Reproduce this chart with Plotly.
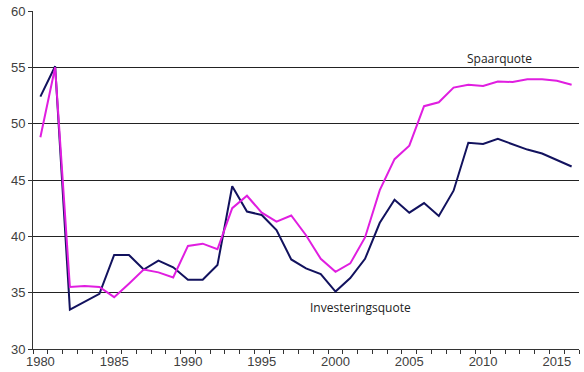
import plotly.graph_objects as go

years = list(range(1980, 2017))
investeringsquote = [52.4, 55.1, 33.5, 34.2, 34.9, 38.35, 38.35, 37.05, 37.85, 37.25,
                     36.15, 36.15, 37.45, 44.45, 42.2, 41.9, 40.55, 37.95, 37.15, 36.65,
                     35.1, 36.3, 38.0, 41.2, 43.25, 42.1, 42.95, 41.8, 44.05, 48.3,
                     48.2, 48.65, 48.15, 47.7, 47.35, 46.8, 46.2]
spaarquote = [48.8, 55.0, 35.5, 35.6, 35.5, 34.6, 35.8, 37.05, 36.8, 36.35,
              39.15, 39.35, 38.85, 42.5, 43.6, 42.1, 41.3, 41.85, 40.1, 38.0,
              36.85, 37.6, 39.9, 44.1, 46.85, 48.05, 51.55, 51.9, 53.2, 53.45,
              53.35, 53.75, 53.7, 53.95, 53.95, 53.8, 53.45]
x_ticks = [1980, 1985, 1990, 1995, 2000, 2005, 2010, 2015]
y_ticks = [30, 35, 40, 45, 50, 55, 60]

fig = go.Figure()
fig.add_trace(go.Scatter(x=years, y=investeringsquote, mode="lines",
                         line=dict(color="#12125E", width=2), name="Investeringsquote"))
fig.add_trace(go.Scatter(x=years, y=spaarquote, mode="lines",
                         line=dict(color="#E01EE0", width=2), name="Spaarquote"))

fig.add_annotation(x=2011.1, y=55.8, text="Spaarquote", showarrow=False,
                   font=dict(family="Open Sans", size=12, color="#222"))
fig.add_annotation(x=2001.7, y=33.7, text="Investeringsquote", showarrow=False,
                   font=dict(family="Open Sans", size=12, color="#222"))

fig.update_layout(
    width=584, height=372,
    margin=dict(l=33, r=5, t=11, b=23),
    paper_bgcolor="white", plot_bgcolor="white",
    showlegend=False,
    font=dict(family="Liberation Sans, Arial", size=13, color="#404040"),
    xaxis=dict(range=[1979.5, 2016.5], tickmode="array", tickvals=x_ticks,
               ticks="", showgrid=False, zeroline=False, automargin=False,
               showline=True, linecolor="#333", linewidth=1,
               minor=dict(tickmode="linear", tick0=1979.5, dtick=1, ticks="outside",
                          ticklen=4, tickcolor="#333", showgrid=False),
               tickfont=dict(size=13, color="#404040")),
    yaxis=dict(range=[30, 60], tickmode="array", tickvals=y_ticks,
               ticks="outside", ticklen=4, tickcolor="#333", automargin=False,
               showgrid=True, gridcolor="#222", gridwidth=1,
               zeroline=False, showline=True, linecolor="#333", linewidth=1,
               tickfont=dict(size=13, color="#404040")),
)

fig.write_html("out.html", config={"displayModeBar": False},
               post_script="document.body.style.margin='0';document.body.style.overflow='hidden';")
